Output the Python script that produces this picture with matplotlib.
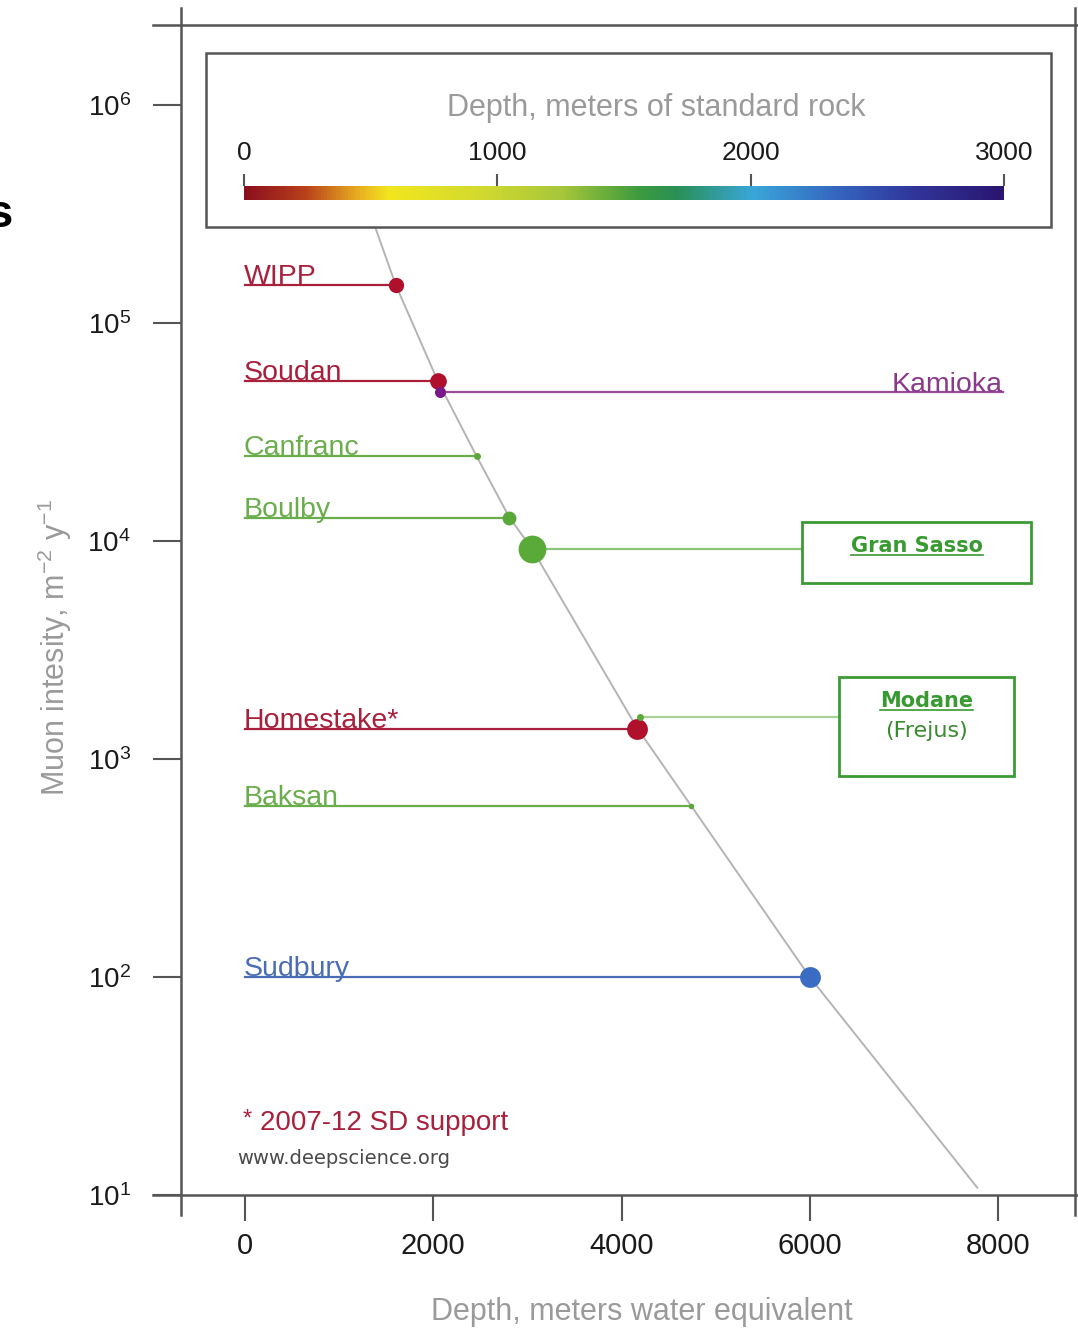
import matplotlib
matplotlib.use("Agg")
import matplotlib.pyplot as plt
from matplotlib import font_manager
from matplotlib.colors import LinearSegmentedColormap, Normalize
from matplotlib.cm import ScalarMappable
from matplotlib.patches import Rectangle
from matplotlib.lines import Line2D
from matplotlib.ticker import NullLocator

installed = {f.name for f in font_manager.fontManager.ttflist}
narrow = "Liberation Sans Narrow" if "Liberation Sans Narrow" in installed else "Liberation Sans"
plt.rcParams["font.family"] = ["Liberation Sans", "DejaVu Sans"]

# underground labs: depth (m w.e.) and muon intensity (m^-2 y^-1)
labs = ["WIPP", "Soudan", "Kamioka", "Canfranc", "Boulby", "Gran Sasso",
        "Homestake", "Modane", "Baksan", "Sudbury"]
depth_mwe = [1600, 2050, 2070, 2460, 2810, 3050, 4160, 4200, 4740, 6000]
intensity = [1.5e5, 5.4e4, 4.8e4, 2.45e4, 1.28e4, 9.2e3, 1.37e3, 1.56e3, 6.1e2, 1.0e2]

# depth-intensity relation
curve_depth = [1390, 1600, 2050, 2460, 2810, 3050, 4160, 4740, 6000, 7780]
curve_intensity = [2.7e5, 1.5e5, 5.4e4, 2.45e4, 1.28e4, 9.2e3, 1.4e3, 6.1e2, 1.0e2, 10.8]

x_ticks = [0, 2000, 4000, 6000, 8000]
y_ticks = [1e1, 1e2, 1e3, 1e4, 1e5, 1e6]
rock_ticks = [0, 1000, 2000, 3000]

crimson = "#a8203c"
green = "#6aae4c"
style = {
    "WIPP":       dict(kind="left",  line=crimson, text=crimson, dot="#b0102c", ms=11),
    "Soudan":     dict(kind="left",  line=crimson, text=crimson, dot="#b0102c", ms=12),
    "Kamioka":    dict(kind="right", line="#9a4a9a", text="#8a3a8a", dot="#7a1a8a", ms=8),
    "Canfranc":   dict(kind="left",  line=green, text=green, dot="#5aa83a", ms=5),
    "Boulby":     dict(kind="left",  line=green, text=green, dot="#5aa83a", ms=10),
    "Gran Sasso": dict(kind="box",   line="#8cc47a", text="#3a9a32", dot="#5aaa3a", ms=20),
    "Homestake":  dict(kind="left",  line=crimson, text=crimson, dot="#b0102c", ms=15),
    "Modane":     dict(kind="box",   line="#a8d498", text="#3a9a32", dot="#5aaa3a", ms=5),
    "Baksan":     dict(kind="left",  line=green, text=green, dot="#5aa83a", ms=4),
    "Sudbury":    dict(kind="left",  line="#4a6db5", text="#4a6db5", dot="#3a6cc4", ms=15),
}
kamioka_end = 8050
boxes = {"Gran Sasso": (5918, 8351, 10**3.807, 10**4.087),
         "Modane": (6311, 8170, 10**2.922, 10**3.376)}

W, H = 1078, 1328
fig = plt.figure(figsize=(W / 100, H / 100), dpi=100)


def fx(px):
    return px / W


def fy(py):
    return 1 - py / H


ax = fig.add_axes([fx(181), fy(1195), fx(1075) - fx(181), fy(25) - fy(1195)])
ax.set_yscale("log")
ax.set_xlim(-680, 8818)
ax.set_ylim(10, 10**6.367)
for s in ax.spines.values():
    s.set_visible(False)

frame = "#555555"
for xs, ys in [((181, 181), (8, 1215)), ((1075, 1075), (8, 1215)),
               ((153, 1078), (25, 25)), ((153, 1078), (1195, 1195))]:
    fig.add_artist(Line2D([fx(v) for v in xs], [fy(v) for v in ys],
                          transform=fig.transFigure, color=frame, lw=1.8))

ax.set_xticks(x_ticks)
ax.set_yticks(y_ticks)
ax.yaxis.set_minor_locator(NullLocator())
ax.tick_params(axis="y", length=20, width=1.5, color=frame, pad=16, labelsize=20)
ax.tick_params(axis="x", length=19, width=1.5, color=frame, pad=8, labelsize=21)
for lbl in ax.get_xticklabels() + ax.get_yticklabels():
    lbl.set_family([narrow, "DejaVu Sans"])
    lbl.set_color("#1a1a1a")

ax.set_xlabel("Depth, meters water equivalent", fontsize=22, color="#9a9a9a",
              family=[narrow, "DejaVu Sans"])
ax.xaxis.set_label_coords(0.5157, -0.100)
ax.xaxis.label.set_va("center")
ax.set_ylabel(r"Muon intesity, m$^{\mathdefault{-2}}$ y$^{\mathdefault{-1}}$", fontsize=22,
              color="#9a9a9a", family=[narrow, "DejaVu Sans"])
ax.yaxis.set_label_coords(-0.141, 0.4675)
ax.yaxis.label.set_va("center")

ax.plot(curve_depth, curve_intensity, color="#b4b4b4", lw=1.4, zorder=1)

boxed_titles = []
for name, d, i in zip(labs, depth_mwe, intensity):
    st = style[name]
    if st["kind"] == "left":
        ax.plot([0, d], [i, i], color=st["line"], lw=1.6, zorder=2)
        label = name + "*" if name == "Homestake" else name
        ax.text(-15, i * 1.01, label, color=st["text"], fontsize=20.5, ha="left", va="baseline")
    elif st["kind"] == "right":
        ax.plot([d, kamioka_end], [i, i], color=st["line"], lw=1.6, zorder=2)
        ax.text(kamioka_end, i * 1.01, name, color=st["text"], fontsize=20.5, ha="right", va="baseline")
    else:
        x0, x1, y0, y1 = boxes[name]
        ax.plot([d, x0], [i, i], color=st["line"], lw=1.6, zorder=2)
        ax.add_patch(Rectangle((x0, y0), x1 - x0, y1 - y0, facecolor="white",
                               edgecolor="#3c9a34", lw=2, zorder=3))
        xc = (x0 + x1) / 2
        if name == "Gran Sasso":
            t = ax.text(xc, 10**3.977, name, color=st["text"], fontsize=15, fontweight="bold",
                        family="DejaVu Sans", ha="center", va="center", zorder=4)
        else:
            t = ax.text(xc, 10**3.266, name, color=st["text"], fontsize=15, fontweight="bold",
                        family="DejaVu Sans", ha="center", va="center", zorder=4)
            ax.text(xc, 10**3.128, "(Frejus)", color="#3a8a30", fontsize=16,
                    family="DejaVu Sans", ha="center", va="center", zorder=4)
        boxed_titles.append(t)
    ax.plot([d], [i], "o", color=st["dot"], ms=st["ms"], mew=0, zorder=5)

# colour-bar box
ax.add_patch(Rectangle((0.028, 0.827), 0.945, 0.149, transform=ax.transAxes,
                       facecolor="white", edgecolor=frame, lw=1.8, zorder=6))

rock_cmap = LinearSegmentedColormap.from_list("rock", [
    (0.0, "#8a0f1e"), (0.08, "#b8401a"), (0.15, "#e8b020"), (0.19, "#f2e61e"),
    (0.32, "#cfd830"), (0.42, "#a5c53a"), (0.52, "#3c9a3e"), (0.57, "#2a8f55"),
    (0.67, "#3aa6d8"), (0.78, "#3466c0"), (0.88, "#30369a"), (1.0, "#2a1570")])
cax = fig.add_axes([fx(244), fy(200), fx(1004) - fx(244), fy(186) - fy(200)])
cb = fig.colorbar(ScalarMappable(norm=Normalize(0, 3000), cmap=rock_cmap), cax=cax,
                  orientation="horizontal", ticks=rock_ticks)
cb.outline.set_visible(False)
cax.xaxis.set_ticks_position("top")
cax.xaxis.set_label_position("top")
cax.tick_params(length=9, width=1.5, color=frame, labelsize=19, pad=6)
for lbl in cax.get_xticklabels():
    lbl.set_family([narrow, "DejaVu Sans"])
    lbl.set_color("#1a1a1a")
cb.set_label("Depth, meters of standard rock", color="#9a9a9a", fontsize=22,
             family=[narrow, "DejaVu Sans"], labelpad=18)
cax.xaxis.label.set_x(0.543)

# footnotes
fig.text(fx(243), fy(1120), "*", color=crimson, fontsize=17, ha="left", va="center")
fig.text(fx(260), fy(1123), "2007-12 SD support", color=crimson, fontsize=20,
         family=[narrow, "DejaVu Sans"], ha="left", va="center")
fig.text(fx(237), fy(1158), "www.deepscience.org", color="#4a4a4a", fontsize=14,
         family="DejaVu Sans", ha="left", va="center")
fig.text(0.0, fy(215), "s", color="black", fontsize=34, fontweight="bold",
         ha="center", va="center")

# underline the boxed lab names
fig.canvas.draw()
renderer = fig.canvas.get_renderer()
for t in boxed_titles:
    bb = t.get_window_extent(renderer)
    fig.add_artist(Line2D([bb.x0, bb.x1], [bb.y0 + 1, bb.y0 + 1], transform=None,
                          color=t.get_color(), lw=1.2))

fig.savefig("out.png", dpi=100)
